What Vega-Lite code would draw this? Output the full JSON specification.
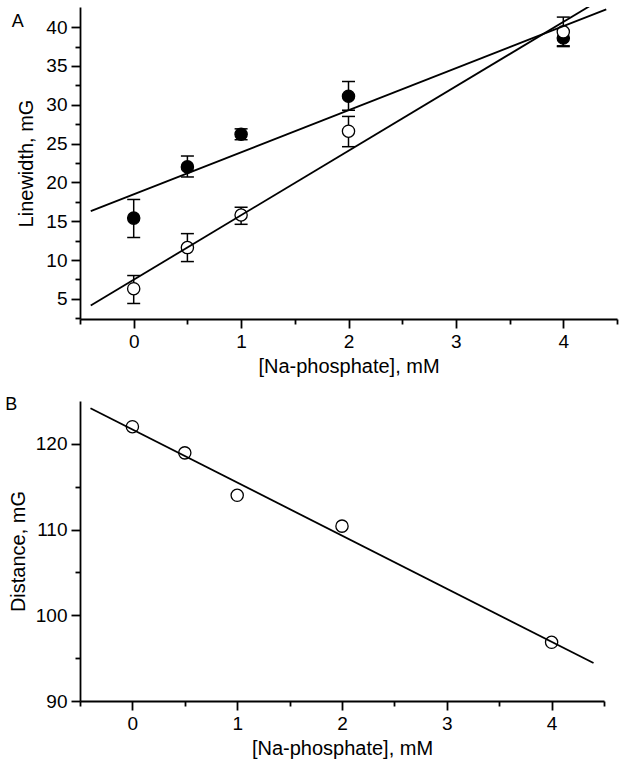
{
  "$schema": "https://vega.github.io/schema/vega-lite/v6.json",
  "background": "white",
  "padding": {"left": 5, "top": 7, "right": 5, "bottom": 5},
  "columns": 1,
  "align": "none",
  "spacing": 20,
  "datasets": {
    "pointsA": [
      {"x": 0, "y": 15.4, "lo": 12.9, "hi": 17.8, "series": "filled"},
      {"x": 0.5, "y": 22.0, "lo": 20.7, "hi": 23.4, "series": "filled"},
      {"x": 1, "y": 26.2, "lo": 25.5, "hi": 26.9, "series": "filled"},
      {"x": 2, "y": 31.1, "lo": 29.3, "hi": 33.0, "series": "filled"},
      {"x": 4, "y": 38.6, "lo": 37.6, "hi": 39.6, "series": "filled"},
      {"x": 0, "y": 6.3, "lo": 4.4, "hi": 8.0, "series": "open"},
      {"x": 0.5, "y": 11.6, "lo": 9.8, "hi": 13.4, "series": "open"},
      {"x": 1, "y": 15.8, "lo": 14.6, "hi": 16.8, "series": "open"},
      {"x": 2, "y": 26.6, "lo": 24.6, "hi": 28.5, "series": "open"},
      {"x": 4, "y": 39.4, "lo": 37.5, "hi": 41.3, "series": "open"}
    ],
    "linesA": [
      {"x": -0.4, "y": 16.3, "series": "filled"},
      {"x": 4.4, "y": 42.3, "series": "filled"},
      {"x": -0.4, "y": 4.14, "series": "open"},
      {"x": 4.4, "y": 44.0, "series": "open"}
    ],
    "pointsB": [
      {"x": 0, "y": 122.0},
      {"x": 0.5, "y": 118.95},
      {"x": 1, "y": 114.0},
      {"x": 2, "y": 110.4},
      {"x": 4, "y": 96.85}
    ],
    "lineB": [
      {"x": -0.4, "y": 124.16},
      {"x": 4.4, "y": 94.43}
    ]
  },
  "concat": [
    {
      "width": 537,
      "height": 312,
      "title": {"text": "A", "anchor": "start", "frame": "bounds", "offset": -24, "dx": -5, "fontSize": 18, "fontWeight": "normal", "font": "Liberation Sans", "color": "black"},
      "layer": [
        {
          "data": {"name": "pointsA"},
          "mark": {"type": "rule", "color": "black", "strokeWidth": 1.5},
          "encoding": {
            "x": {"field": "x", "type": "quantitative",
              "scale": {"domain": [-0.5, 4.5], "nice": false, "zero": false},
              "axis": {"title": "[Na-phosphate], mM",
                "values": [-0.5, 0, 0.5, 1, 1.5, 2, 2.5, 3, 3.5, 4, 4.5],
                "labelExpr": "datum.value % 1 === 0 ? format(datum.value, 'd') : ''",
                "tickSize": {"condition": {"test": "datum.value % 1 === 0", "value": 9}, "value": 5}}},
            "y": {"field": "lo", "type": "quantitative",
              "scale": {"domain": [2.4, 42.6], "nice": false, "zero": false},
              "axis": {"title": "Linewidth, mG",
                "values": [2.5, 5, 7.5, 10, 12.5, 15, 17.5, 20, 22.5, 25, 27.5, 30, 32.5, 35, 37.5, 40],
                "labelExpr": "datum.value % 5 === 0 ? format(datum.value, 'd') : ''",
                "tickSize": {"condition": {"test": "datum.value % 5 === 0", "value": 9}, "value": 5}}},
            "y2": {"field": "hi"}
          }
        },
        {
          "data": {"name": "pointsA"},
          "mark": {"type": "tick", "orient": "horizontal", "size": 13, "thickness": 1.5, "color": "black", "opacity": 1},
          "encoding": {
            "x": {"field": "x", "type": "quantitative"},
            "y": {"field": "lo", "type": "quantitative",
              "axis": {"title": "Linewidth, mG",
                "values": [2.5, 5, 7.5, 10, 12.5, 15, 17.5, 20, 22.5, 25, 27.5, 30, 32.5, 35, 37.5, 40],
                "labelExpr": "datum.value % 5 === 0 ? format(datum.value, 'd') : ''",
                "tickSize": {"condition": {"test": "datum.value % 5 === 0", "value": 9}, "value": 5}}}
          }
        },
        {
          "data": {"name": "pointsA"},
          "mark": {"type": "tick", "orient": "horizontal", "size": 13, "thickness": 1.5, "color": "black", "opacity": 1},
          "encoding": {
            "x": {"field": "x", "type": "quantitative"},
            "y": {"field": "hi", "type": "quantitative",
              "axis": {"title": "Linewidth, mG",
                "values": [2.5, 5, 7.5, 10, 12.5, 15, 17.5, 20, 22.5, 25, 27.5, 30, 32.5, 35, 37.5, 40],
                "labelExpr": "datum.value % 5 === 0 ? format(datum.value, 'd') : ''",
                "tickSize": {"condition": {"test": "datum.value % 5 === 0", "value": 9}, "value": 5}}}
          }
        },
        {
          "data": {"name": "pointsA"},
          "mark": {"type": "circle", "size": 150, "stroke": "black", "strokeWidth": 1.3, "opacity": 1},
          "encoding": {
            "x": {"field": "x", "type": "quantitative"},
            "y": {"field": "y", "type": "quantitative",
              "axis": {"title": "Linewidth, mG",
                "values": [2.5, 5, 7.5, 10, 12.5, 15, 17.5, 20, 22.5, 25, 27.5, 30, 32.5, 35, 37.5, 40],
                "labelExpr": "datum.value % 5 === 0 ? format(datum.value, 'd') : ''",
                "tickSize": {"condition": {"test": "datum.value % 5 === 0", "value": 9}, "value": 5}}},
            "fill": {"field": "series", "type": "nominal", "scale": {"domain": ["filled", "open"], "range": ["black", "white"]}, "legend": null}
          }
        },
        {
          "data": {"name": "linesA"},
          "mark": {"type": "line", "color": "black", "strokeWidth": 1.8, "clip": true},
          "encoding": {
            "x": {"field": "x", "type": "quantitative"},
            "y": {"field": "y", "type": "quantitative",
              "axis": {"title": "Linewidth, mG",
                "values": [2.5, 5, 7.5, 10, 12.5, 15, 17.5, 20, 22.5, 25, 27.5, 30, 32.5, 35, 37.5, 40],
                "labelExpr": "datum.value % 5 === 0 ? format(datum.value, 'd') : ''",
                "tickSize": {"condition": {"test": "datum.value % 5 === 0", "value": 9}, "value": 5}}},
            "detail": {"field": "series", "type": "nominal"}
          }
        }
      ]
    },
    {
      "width": 524,
      "height": 300,
      "title": {"text": "B", "anchor": "start", "frame": "bounds", "offset": -13, "dx": -3, "fontSize": 18, "fontWeight": "normal", "font": "Liberation Sans", "color": "black"},
      "layer": [
        {
          "data": {"name": "pointsB"},
          "mark": {"type": "point", "shape": "circle", "size": 150, "stroke": "black", "strokeWidth": 1.3, "filled": false, "opacity": 1},
          "encoding": {
            "x": {"field": "x", "type": "quantitative",
              "scale": {"domain": [-0.5, 4.5], "nice": false, "zero": false},
              "axis": {"title": "[Na-phosphate], mM",
                "values": [-0.5, 0, 0.5, 1, 1.5, 2, 2.5, 3, 3.5, 4, 4.5],
                "labelExpr": "datum.value % 1 === 0 ? format(datum.value, 'd') : ''",
                "tickSize": {"condition": {"test": "datum.value % 1 === 0", "value": 9}, "value": 5}}},
            "y": {"field": "y", "type": "quantitative",
              "scale": {"domain": [90, 125], "nice": false, "zero": false},
              "axis": {"title": "Distance, mG", "titlePadding": 7,
                "values": [90, 95, 100, 105, 110, 115, 120],
                "labelExpr": "datum.value % 10 === 0 ? format(datum.value, 'd') : ''",
                "tickSize": {"condition": {"test": "datum.value % 10 === 0", "value": 9}, "value": 5}}}
          }
        },
        {
          "data": {"name": "lineB"},
          "mark": {"type": "line", "color": "black", "strokeWidth": 1.8, "clip": true},
          "encoding": {
            "x": {"field": "x", "type": "quantitative"},
            "y": {"field": "y", "type": "quantitative"}
          }
        }
      ]
    }
  ],
  "config": {
    "view": {"stroke": null},
    "axis": {
      "domainColor": "black", "domainWidth": 1.8,
      "tickColor": "black", "tickWidth": 1.8,
      "labelColor": "black", "titleColor": "black",
      "labelFont": "Liberation Sans", "titleFont": "Liberation Sans",
      "labelFontSize": 19, "titleFontSize": 20, "titleFontWeight": "normal",
      "grid": false, "labelPadding": 4, "titlePadding": 5, "labelFlush": false,
      "labelOverlap": false
    },
    "axisY": {"titlePadding": 9}
  }
}
